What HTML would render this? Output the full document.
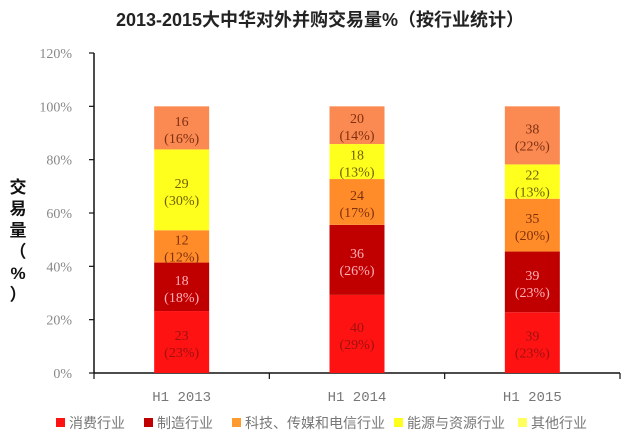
<!DOCTYPE html>
<html><head><meta charset="utf-8"><style>
body{margin:0;background:#fff;width:640px;height:443px;overflow:hidden}
svg{display:block}
</style></head><body>
<svg width="640" height="443" xmlns="http://www.w3.org/2000/svg">
<text x="320" y="26" text-anchor="middle" font-family="Liberation Sans, Noto Sans CJK SC, sans-serif" font-weight="bold" font-size="18" fill="#222">2013-2015大中华对外并购交易量%（按行业统计）</text>
<g id="yt" font-family="Liberation Sans, Noto Sans CJK SC, sans-serif" font-weight="bold" font-size="17" fill="#111"></g>
<g id="axes"></g><g id="bars"></g><g id="legend"></g>
</svg>
<script>
const categories=["H1 2013","H1 2014","H1 2015"];
const seriesNames=["消费行业","制造行业","科技、传媒和电信行业","能源与资源行业","其他行业"];
const counts=[[23,40,39],[18,36,39],[12,24,35],[29,18,22],[16,20,38]];
const pcts=[[23,29,23],[18,26,23],[12,17,20],[30,13,13],[16,14,22]];
const yTicks=[0,20,40,60,80,100,120];
const colors=["#ff1212","#c00000","#ff8c28","#ffff1e","#fa8a52"];
const textColors=["#a01010","#ffb0b8","#803010","#706000","#803010"];
const legendColors=["#ff1212","#c00000","#ff9a30","#ffff1e","#ffff60"];
const NS="http://www.w3.org/2000/svg";
const X0=94,X1=620,Y0=373,Ytop=53;
const y=v=>Y0-(v/120)*(Y0-Ytop);
const band=(X1-X0)/categories.length;
const xc=i=>X0+band*(i+0.5);
function mk(t,a,p){const e=document.createElementNS(NS,t);for(const k in a)e.setAttribute(k,a[k]);p.appendChild(e);return e;}
const yt=document.getElementById('yt');
["交","易","量","（","%","）"].forEach((c,i)=>{const t=mk('text',{x:18,y:193+i*21.5,'text-anchor':'middle'},yt);t.textContent=c;});
const ax=document.getElementById('axes');


mk('line',{x1:X0,y1:Ytop,x2:X0,y2:Y0,stroke:'#111','stroke-width':1.5},ax);
mk('line',{x1:X0,y1:Y0,x2:X1,y2:Y0,stroke:'#111','stroke-width':1.5},ax);
yTicks.forEach(v=>{
 mk('line',{x1:X0-5,y1:y(v),x2:X0,y2:y(v),stroke:'#111','stroke-width':1.2},ax);
 const t=mk('text',{x:X0-22,y:y(v)+5,'text-anchor':'end','font-family':'Liberation Serif, serif','font-size':14,fill:'#888'},ax);
 
 
 t.textContent=v+'%';
});
for(let i=0;i<=categories.length;i++){mk('line',{x1:X0+band*i,y1:Y0,x2:X0+band*i,y2:Y0+6,stroke:'#111','stroke-width':1.2},ax);}
categories.forEach((c,i)=>{const t=mk('text',{x:xc(i),y:401,'text-anchor':'middle','font-family':'Liberation Mono, monospace','font-size':14,fill:'#777'},ax);
 
 
 t.textContent=c;});
const bars=document.getElementById('bars');
const bw=55;
categories.forEach((c,i)=>{
 let tot=0;pcts.forEach(s=>tot+=s[i]);
 let acc=0;
 pcts.forEach((s,k)=>{
  const v0=acc/tot*100,v1=(acc+s[i])/tot*100;acc+=s[i];
  const r=mk('rect',{x:xc(i)-bw/2,y:y(v1),width:bw,height:y(v0)-y(v1),fill:colors[k]},bars);
  
  
  const cy=(y(v0)+y(v1))/2;
  const t1=mk('text',{x:xc(i),y:cy-2,'text-anchor':'middle','font-family':'Liberation Serif, serif','font-size':14,fill:textColors[k]},bars);
  
  
  t1.textContent=counts[k][i];
  const t2=mk('text',{x:xc(i),y:cy+15,'text-anchor':'middle','font-family':'Liberation Serif, serif','font-size':14,fill:textColors[k]},bars);
  
  
  t2.textContent='('+s[i]+'%)';
 });
});
const lg=document.getElementById('legend');
const lx=[56,144,232,394,518];
seriesNames.forEach((n,k)=>{
 const g=mk('g',{},lg);
 
 
 mk('rect',{x:lx[k],y:418,width:9,height:9,fill:legendColors[k]},g);
 const t=mk('text',{x:lx[k]+13,y:428,'font-family':'Liberation Sans, Noto Sans CJK SC, sans-serif','font-size':14,fill:'#777'},g);
 t.textContent=n;
});
</script>
</body></html>
